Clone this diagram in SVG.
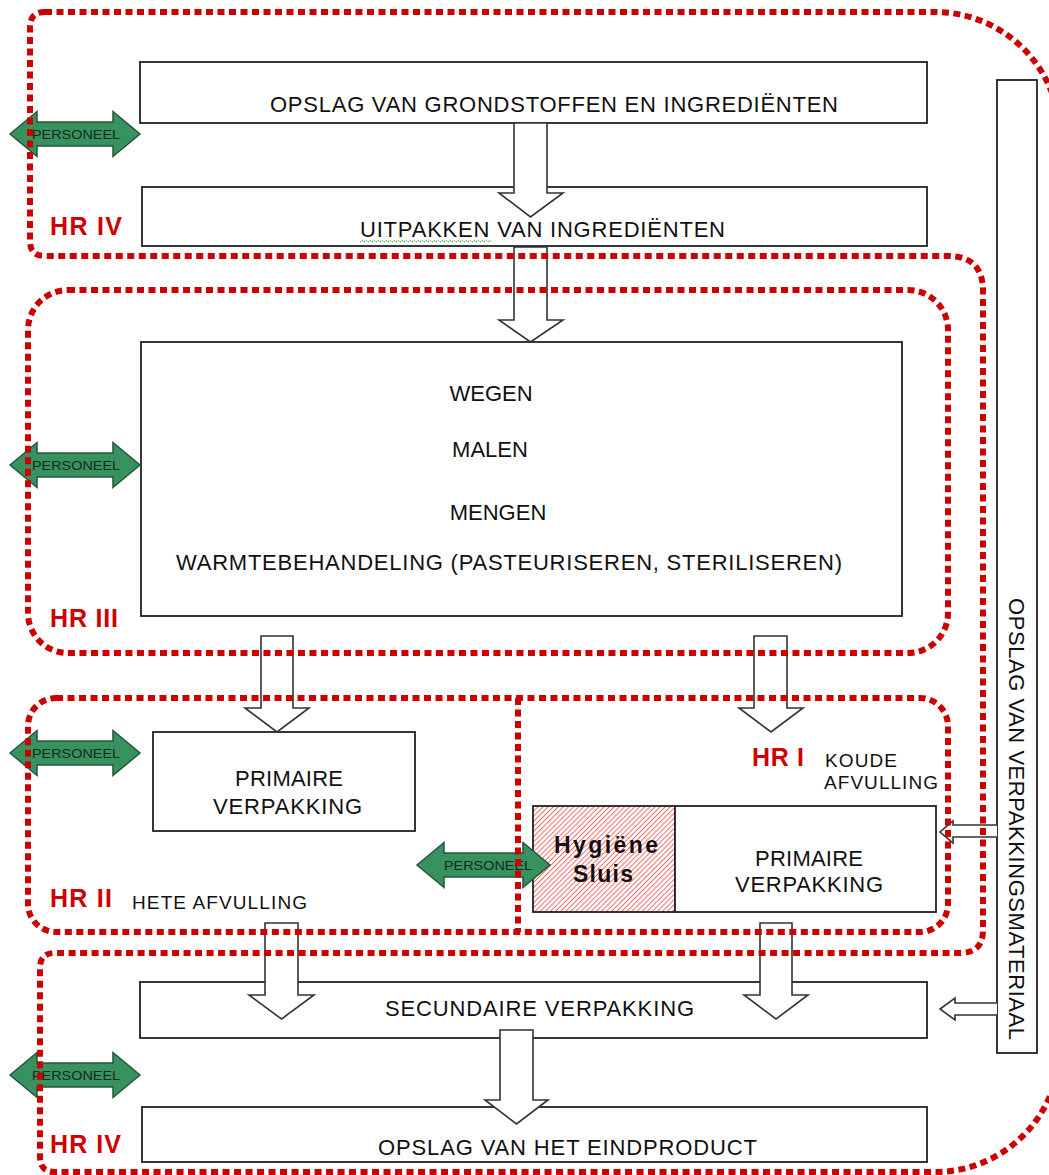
<svg xmlns="http://www.w3.org/2000/svg" width="1049" height="1175" viewBox="0 0 1049 1175">
<style>
.box{fill:#fff;stroke:#222;stroke-width:1.8}
.t{font-family:"Liberation Sans",Arial,sans-serif;font-size:22px;fill:#111}
.s{font-size:19px}
.m{text-anchor:middle}
.hr{font-family:"Liberation Sans",Arial,sans-serif;font-size:25px;font-weight:bold;fill:#d00000}
.hb{font-family:"Liberation Sans",Arial,sans-serif;font-size:23px;font-weight:bold;fill:#111}
.harrow{fill:#fff;stroke:#333;stroke-width:1.6;stroke-linejoin:miter}
.green{fill:#37925f;stroke:#24563a;stroke-width:1.5}
.pt{font-family:"Liberation Sans",Arial,sans-serif;font-size:13px;fill:#152a1c;text-anchor:middle}
.dot{fill:none;stroke:#cc0000;stroke-width:6;stroke-dasharray:7 4.5}
</style>
<defs>
<pattern id="hatch" width="3.6" height="3.6" patternUnits="userSpaceOnUse" patternTransform="rotate(45)">
<rect width="3.6" height="3.6" fill="#fff"/>
<line x1="0" y1="0" x2="0" y2="3.6" stroke="#ff3030" stroke-width="1.4"/>
</pattern>
</defs>

<g id="opslag-grondstoffen">
<rect class="box" x="140" y="62" width="787" height="61"/>
<text class="t" x="270" y="112" textLength="568" lengthAdjust="spacing">OPSLAG VAN GRONDSTOFFEN EN INGREDIËNTEN</text>
</g>
<g id="uitpakken">
<rect class="box" x="142" y="187" width="785" height="59"/>
<text class="t" x="360" y="237" textLength="365" lengthAdjust="spacing">UITPAKKEN VAN INGREDIËNTEN</text>
<path d="M360 242 l2 -1.5 l2 1.5 l2 -1.5 l2 1.5 l2 -1.5 l2 1.5 l2 -1.5 l2 1.5 l2 -1.5 l2 1.5 l2 -1.5 l2 1.5 l2 -1.5 l2 1.5 l2 -1.5 l2 1.5 l2 -1.5 l2 1.5 l2 -1.5 l2 1.5 l2 -1.5 l2 1.5 l2 -1.5 l2 1.5 l2 -1.5 l2 1.5 l2 -1.5 l2 1.5 l2 -1.5 l2 1.5 l2 -1.5 l2 1.5 l2 -1.5 l2 1.5 l2 -1.5 l2 1.5 l2 -1.5 l2 1.5 l2 -1.5 l2 1.5 l2 -1.5 l2 1.5 l2 -1.5 l2 1.5 l2 -1.5 l2 1.5 l2 -1.5 l2 1.5 l2 -1.5 l2 1.5 l2 -1.5 l2 1.5 l2 -1.5 l2 1.5 l2 -1.5 l2 1.5 l2 -1.5 l2 1.5 l2 -1.5 l2 1.5 l2 -1.5 l2 1.5 l2 -1.5 l2 1.5 l2 -1.5 l2 1.5" fill="none" stroke="#3aa03a" stroke-width="1" stroke-dasharray="1.5 1"/>
</g>
<g id="bereiding">
<rect class="box" x="141" y="342" width="761" height="274"/>
<text class="t m" x="491" y="401">WEGEN</text>
<text class="t m" x="490" y="457">MALEN</text>
<text class="t m" x="498" y="520">MENGEN</text>
<text class="t" x="176" y="570" textLength="666" lengthAdjust="spacing">WARMTEBEHANDELING (PASTEURISEREN, STERILISEREN)</text>
</g>
<g id="primaire-verpakking-heet">
<rect class="box" x="153" y="732" width="262" height="99"/>
<text class="t" x="235" y="786" textLength="108" lengthAdjust="spacing">PRIMAIRE</text>
<text class="t" x="213" y="814" textLength="149" lengthAdjust="spacing">VERPAKKING</text>
</g>
<g id="hygiene-sluis">
<rect x="533" y="806" width="142" height="106" fill="url(#hatch)" stroke="#222" stroke-width="1.8"/>
<text class="hb" x="554" y="853" textLength="104" lengthAdjust="spacing">Hygiëne</text>
<text class="hb" x="573" y="882" textLength="60" lengthAdjust="spacing">Sluis</text>
</g>
<g id="primaire-verpakking-koud">
<rect class="box" x="675" y="806" width="261" height="106"/>
<text class="t" x="755" y="866" textLength="108" lengthAdjust="spacing">PRIMAIRE</text>
<text class="t" x="735" y="892" textLength="148" lengthAdjust="spacing">VERPAKKING</text>
</g>
<g id="secundaire-verpakking">
<rect class="box" x="140" y="982" width="787" height="56"/>
<text class="t" x="385" y="1016" textLength="309" lengthAdjust="spacing">SECUNDAIRE VERPAKKING</text>
</g>
<g id="opslag-eindproduct">
<rect class="box" x="142" y="1107" width="785" height="55"/>
<text class="t" x="378" y="1155" textLength="379" lengthAdjust="spacing">OPSLAG VAN HET EINDPRODUCT</text>
</g>
<g id="opslag-verpakkingsmateriaal">
<rect class="box" x="997" y="80" width="40" height="973"/>
<text class="t" transform="translate(1009,819) rotate(90)" text-anchor="middle" textLength="442" lengthAdjust="spacing">OPSLAG VAN VERPAKKINGSMATERIAAL</text>
</g>

<g id="connectors">
<path class="harrow" d="M514 123 V193 H499 L530.5 217 L563 193 H547 V123 Z"/>
<path class="harrow" d="M514 247 V320 H499 L530.5 342 L563 320 H547 V247 Z"/>
<path class="harrow" d="M261 636 V708 H245 L277 732 L309 708 H293 V636 Z"/>
<path class="harrow" d="M754 636 V708 H739 L771 732 L803 708 H787 V636 Z"/>
<path class="harrow" d="M265 923 V995 H249 L281.5 1019 L314 995 H298 V923 Z"/>
<path class="harrow" d="M760 923 V995 H744 L776 1019 L808 995 H792 V923 Z"/>
<path class="harrow" d="M500 1030 V1100 H485 L516.5 1124 L548 1100 H533 V1030 Z"/>
<path class="harrow" d="M997 825 H953 V821 L940 832 L953 843 V837 H997"/>
<path class="harrow" d="M997 1003 H955 V998 L940 1009 L955 1020 V1015 H997"/>
</g>

<g id="personeel-1">
<path class="green" d="M10 134 L37 111.5 V122 H113 V111.5 L140 134 L113 156.5 V146 H37 V156.5 Z"/>
<text class="pt" x="76" y="139" textLength="88" lengthAdjust="spacingAndGlyphs">PERSONEEL</text>
</g>
<g id="personeel-2">
<path class="green" d="M10 465 L37 442.5 V453 H113 V442.5 L140 465 L113 487.5 V477 H37 V487.5 Z"/>
<text class="pt" x="76" y="470" textLength="88" lengthAdjust="spacingAndGlyphs">PERSONEEL</text>
</g>
<g id="personeel-3">
<path class="green" d="M10 753 L37 730.5 V741 H113 V730.5 L140 753 L113 775.5 V765 H37 V775.5 Z"/>
<text class="pt" x="76" y="758" textLength="88" lengthAdjust="spacingAndGlyphs">PERSONEEL</text>
</g>
<g id="personeel-4">
<path class="green" d="M417 865 L444 842.5 V853 H523 V842.5 L550 865 L523 887.5 V877 H444 V887.5 Z"/>
<text class="pt" x="488" y="870" textLength="88" lengthAdjust="spacingAndGlyphs">PERSONEEL</text>
</g>
<g id="personeel-5">
<path class="green" d="M10 1075 L37 1052.5 V1063 H113 V1052.5 L140 1075 L113 1097.5 V1087 H37 V1097.5 Z"/>
<text class="pt" x="76" y="1080" textLength="88" lengthAdjust="spacingAndGlyphs">PERSONEEL</text>
</g>

<g id="zone-hr-iv">
<path class="dot" d="M45 12 H935 A125 125 0 0 1 1060 137 V1047 A125 125 0 0 1 935 1172 H55 Q40 1172 40 1157 V968 Q40 953 55 953 H960 Q983 953 983 930 V291 Q983 256 948 256 H45 Q30 256 30 241 V27 Q30 12 45 12 Z"/>
<text class="hr" x="50" y="235" textLength="72" lengthAdjust="spacing">HR IV</text>
<text class="hr" x="50" y="1153" textLength="71" lengthAdjust="spacing">HR IV</text>
</g>
<g id="zone-hr-iii">
<rect class="dot" x="28" y="290" width="920" height="363" rx="40"/>
<text class="hr" x="50" y="627" textLength="68" lengthAdjust="spacing">HR III</text>
</g>
<g id="zone-hr-ii-i">
<rect class="dot" x="28" y="698" width="920" height="234" rx="28"/>
<line class="dot" x1="518" y1="698" x2="518" y2="932"/>
<text class="hr" x="50" y="907" textLength="62" lengthAdjust="spacing">HR II</text>
<text class="t s" x="132" y="909" textLength="175" lengthAdjust="spacing">HETE AFVULLING</text>
<text class="hr" x="752" y="766" textLength="52" lengthAdjust="spacing">HR I</text>
<text class="t s" x="825" y="767" textLength="72" lengthAdjust="spacing">KOUDE</text>
<text class="t s" x="824" y="789" textLength="114" lengthAdjust="spacing">AFVULLING</text>
</g>
</svg>
